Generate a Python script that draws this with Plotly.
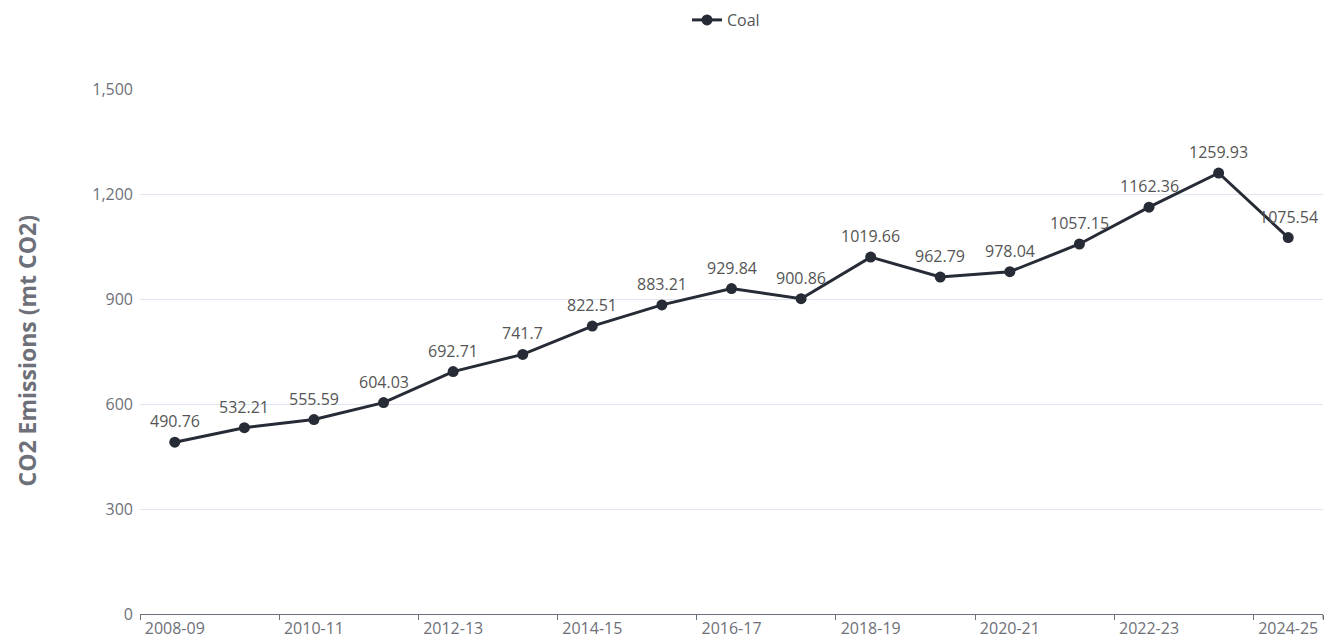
import plotly.graph_objects as go

years = ["2008-09", "2009-10", "2010-11", "2011-12", "2012-13", "2013-14", "2014-15",
         "2015-16", "2016-17", "2017-18", "2018-19", "2019-20", "2020-21", "2021-22",
         "2022-23", "2023-24", "2024-25"]
coal = [490.76, 532.21, 555.59, 604.03, 692.71, 741.7, 822.51, 883.21, 929.84,
        900.86, 1019.66, 962.79, 978.04, 1057.15, 1162.36, 1259.93, 1075.54]
tick_labels = years[::2]
y_ticks = [0, 300, 600, 900, 1200, 1500]

line_color = "#262b36"
axis_gray = "#6e7079"
label_gray = "#555555"
font_family = "Open Sans, Noto Sans, sans-serif"

# page body has an 8px margin, so the figure is sized to the visible area
W, H = 1324, 630
L, R, T, B = 132, 9, 81, 24
pw = W - L - R

fig = go.Figure()
fig.add_trace(go.Scatter(
    x=years, y=coal, name="Coal", mode="lines+markers",
    line=dict(color=line_color, width=3),
    marker=dict(color=line_color, size=11),
    cliponaxis=False,
))

# data labels above each point
for yr, v in zip(years, coal):
    fig.add_annotation(x=yr, y=v, xref="x", yref="y", text=f"{v:g}",
                       showarrow=False, yshift=21, xanchor="center", yanchor="middle",
                       font=dict(size=16, color=label_gray, family=font_family))

# closing tick at the right end of the category axis
fig.add_shape(type="line", xref="x", yref="paper", x0=16.5, x1=16.5,
              y0=0, y1=-5 / (H - T - B), line=dict(color=axis_gray, width=1))

fig.add_annotation(
    text="<b>CO2 Emissions (mt CO2)</b>", textangle=-90,
    xref="paper", yref="paper", x=(1 - L) / pw, y=0.5,
    xanchor="left", yanchor="middle", showarrow=False, borderpad=0,
    font=dict(size=23, color=axis_gray, family=font_family),
)

fig.update_layout(
    width=W, height=H,
    margin=dict(l=L, r=R, t=T, b=B, autoexpand=False),
    plot_bgcolor="white", paper_bgcolor="white",
    font=dict(family=font_family, color=axis_gray, size=16),
    showlegend=True,
    legend=dict(orientation="h", x=(679 - L) / pw, xanchor="left",
                yref="container", y=1 - 12 / H, yanchor="middle",
                font=dict(size=16, color=label_gray)),
    xaxis=dict(
        type="category", categoryorder="array", categoryarray=years,
        tickmode="array", tickvals=tick_labels, ticktext=tick_labels,
        tickson="boundaries", ticks="outside", ticklen=5, tickcolor=axis_gray,
        showline=True, linecolor=axis_gray, linewidth=1,
        showgrid=False, range=[-0.5, 16.5], automargin=False,
        tickfont=dict(size=16, color=axis_gray),
    ),
    yaxis=dict(
        range=[0, 1500], tickvals=y_ticks, tickformat=",",
        showgrid=True, gridcolor="#e0e6f1", zeroline=False, showline=False,
        tickfont=dict(size=16, color=axis_gray), ticks="", ticklabelstandoff=6,
        automargin=False,
    ),
)

fig.write_html("out.html")
